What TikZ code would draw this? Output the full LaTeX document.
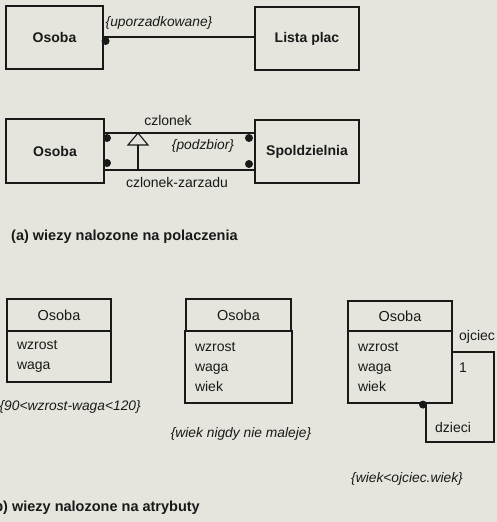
\documentclass[tikz,border=0pt]{standalone}
\usepackage{fontspec}
\setmainfont{Liberation Sans}
\definecolor{paper}{RGB}{229,229,222}
\definecolor{ink}{RGB}{25,25,25}
\tikzset{
  every node/.style={font=\fontsize{14}{20}\selectfont, text=ink},
  cls/.style={draw=ink, line width=1.2pt, inner sep=0pt, font=\fontsize{14}{20}\selectfont\bfseries},
  ctitle/.style={draw=ink, line width=1.2pt, inner sep=0pt, font=\fontsize{14.5}{20}\selectfont},
  attr/.style={draw=ink, line width=1.2pt, inner xsep=10pt, inner ysep=0pt, align=left},
  lbl/.style={inner sep=0pt},
  cons/.style={inner sep=0pt, font=\fontsize{13.8}{20}\selectfont\itshape},
  captxt/.style={inner sep=0pt, font=\fontsize{14.5}{20}\selectfont\bfseries},
  assoc/.style={draw=ink, line width=1.1pt},
  dotmark/.style={fill=ink},
}
\begin{document}
\begin{tikzpicture}[x=1pt, y=-1pt]
\useasboundingbox[fill=paper] (0,0) rectangle (497,522);

% ---- row 1 ----
\node[cls, minimum width=97pt, minimum height=63pt] (os1) at (54.5,37.5) {Osoba};
\node[cls, minimum width=104pt, minimum height=63pt] (lp) at (307,38.5) {Lista plac};
\draw[assoc] (os1.east |- 0,37) -- (lp.west |- 0,37);
\fill[dotmark] (os1.east |- 0,41) ++(2,0) circle (4pt);
\node[cons] (uporz) at (159,23) {\{uporzadkowane\}};

% ---- row 2 ----
\node[cls, minimum width=98pt, minimum height=64pt] (os2) at (55,151) {Osoba};
\node[cls, minimum width=104pt, minimum height=63pt] (sp) at (307,151.5) {Spoldzielnia};
\draw[assoc] (os2.east |- 0,133) -- (sp.west |- 0,133);
\draw[assoc] (os2.east |- 0,170) -- (sp.west |- 0,170);
\fill[dotmark] (107,138) circle (4pt);
\fill[dotmark] (107,163) circle (4pt);
\fill[dotmark] (249,138) circle (4pt);
\fill[dotmark] (249,164) circle (4pt);
\coordinate (tapex) at (138,133);
\coordinate (tbase) at (138,145);
\coordinate (tfoot) at (138,170);
\draw[assoc, fill=paper] (tapex) -- ([xshift=10pt]tbase) -- ([xshift=-10pt]tbase) -- cycle;
\draw[assoc] (tbase) -- (tfoot);
\node[lbl] (czl) at (168,120) {czlonek};
\node[cons] (podz) at (203,146) {\{podzbior\}};
\node[lbl] (czlz) at (177,182) {czlonek-zarzadu};
\node[captxt, anchor=west] (capa) at (11,237) {(a) wiezy nalozone na polaczenia};

% ---- row 3 ----
\node[ctitle, minimum width=104pt, minimum height=32pt] (t1) at (59,315) {Osoba};
\node[attr, text width=84pt, minimum height=51pt] (a1) at (59,356.5) {wzrost\\waga};
\node[cons, anchor=east] (c1) at (141,407) {\{90<wzrost-waga<120\}};

\node[ctitle, minimum width=105pt, minimum height=32pt] (t2) at (238.5,315) {Osoba};
\node[attr, text width=87pt, minimum height=72pt] (a2) at (238.5,367) {wzrost\\waga\\wiek};
\node[cons] (c2) at (241,434) {\{wiek nigdy nie maleje\}};

\node[ctitle, minimum width=104pt, minimum height=30pt] (t3) at (400,316) {Osoba};
\node[attr, text width=84pt, minimum height=72pt] (a3) at (400,367) {wzrost\\waga\\wiek};
\coordinate (sr) at (494,352);
\coordinate (sb) at (426,442);
\draw[assoc] (a3.east |- sr) -- (sr) |- (sb) -- (a3.south -| sb);
\fill[dotmark] (a3.south -| sb) ++(-3,1) circle (4pt);
\node[lbl, anchor=west] (ojc) at (459,337) {ojciec};
\node[lbl] (one) at (463,368) {1};
\node[lbl] (dz) at (453,427) {dzieci};
\node[cons] (c3) at (407,479) {\{wiek<ojciec.wiek\}};

\node[captxt, anchor=east] (capb) at (200,508) {(b) wiezy nalozone na atrybuty};
\end{tikzpicture}
\end{document}
